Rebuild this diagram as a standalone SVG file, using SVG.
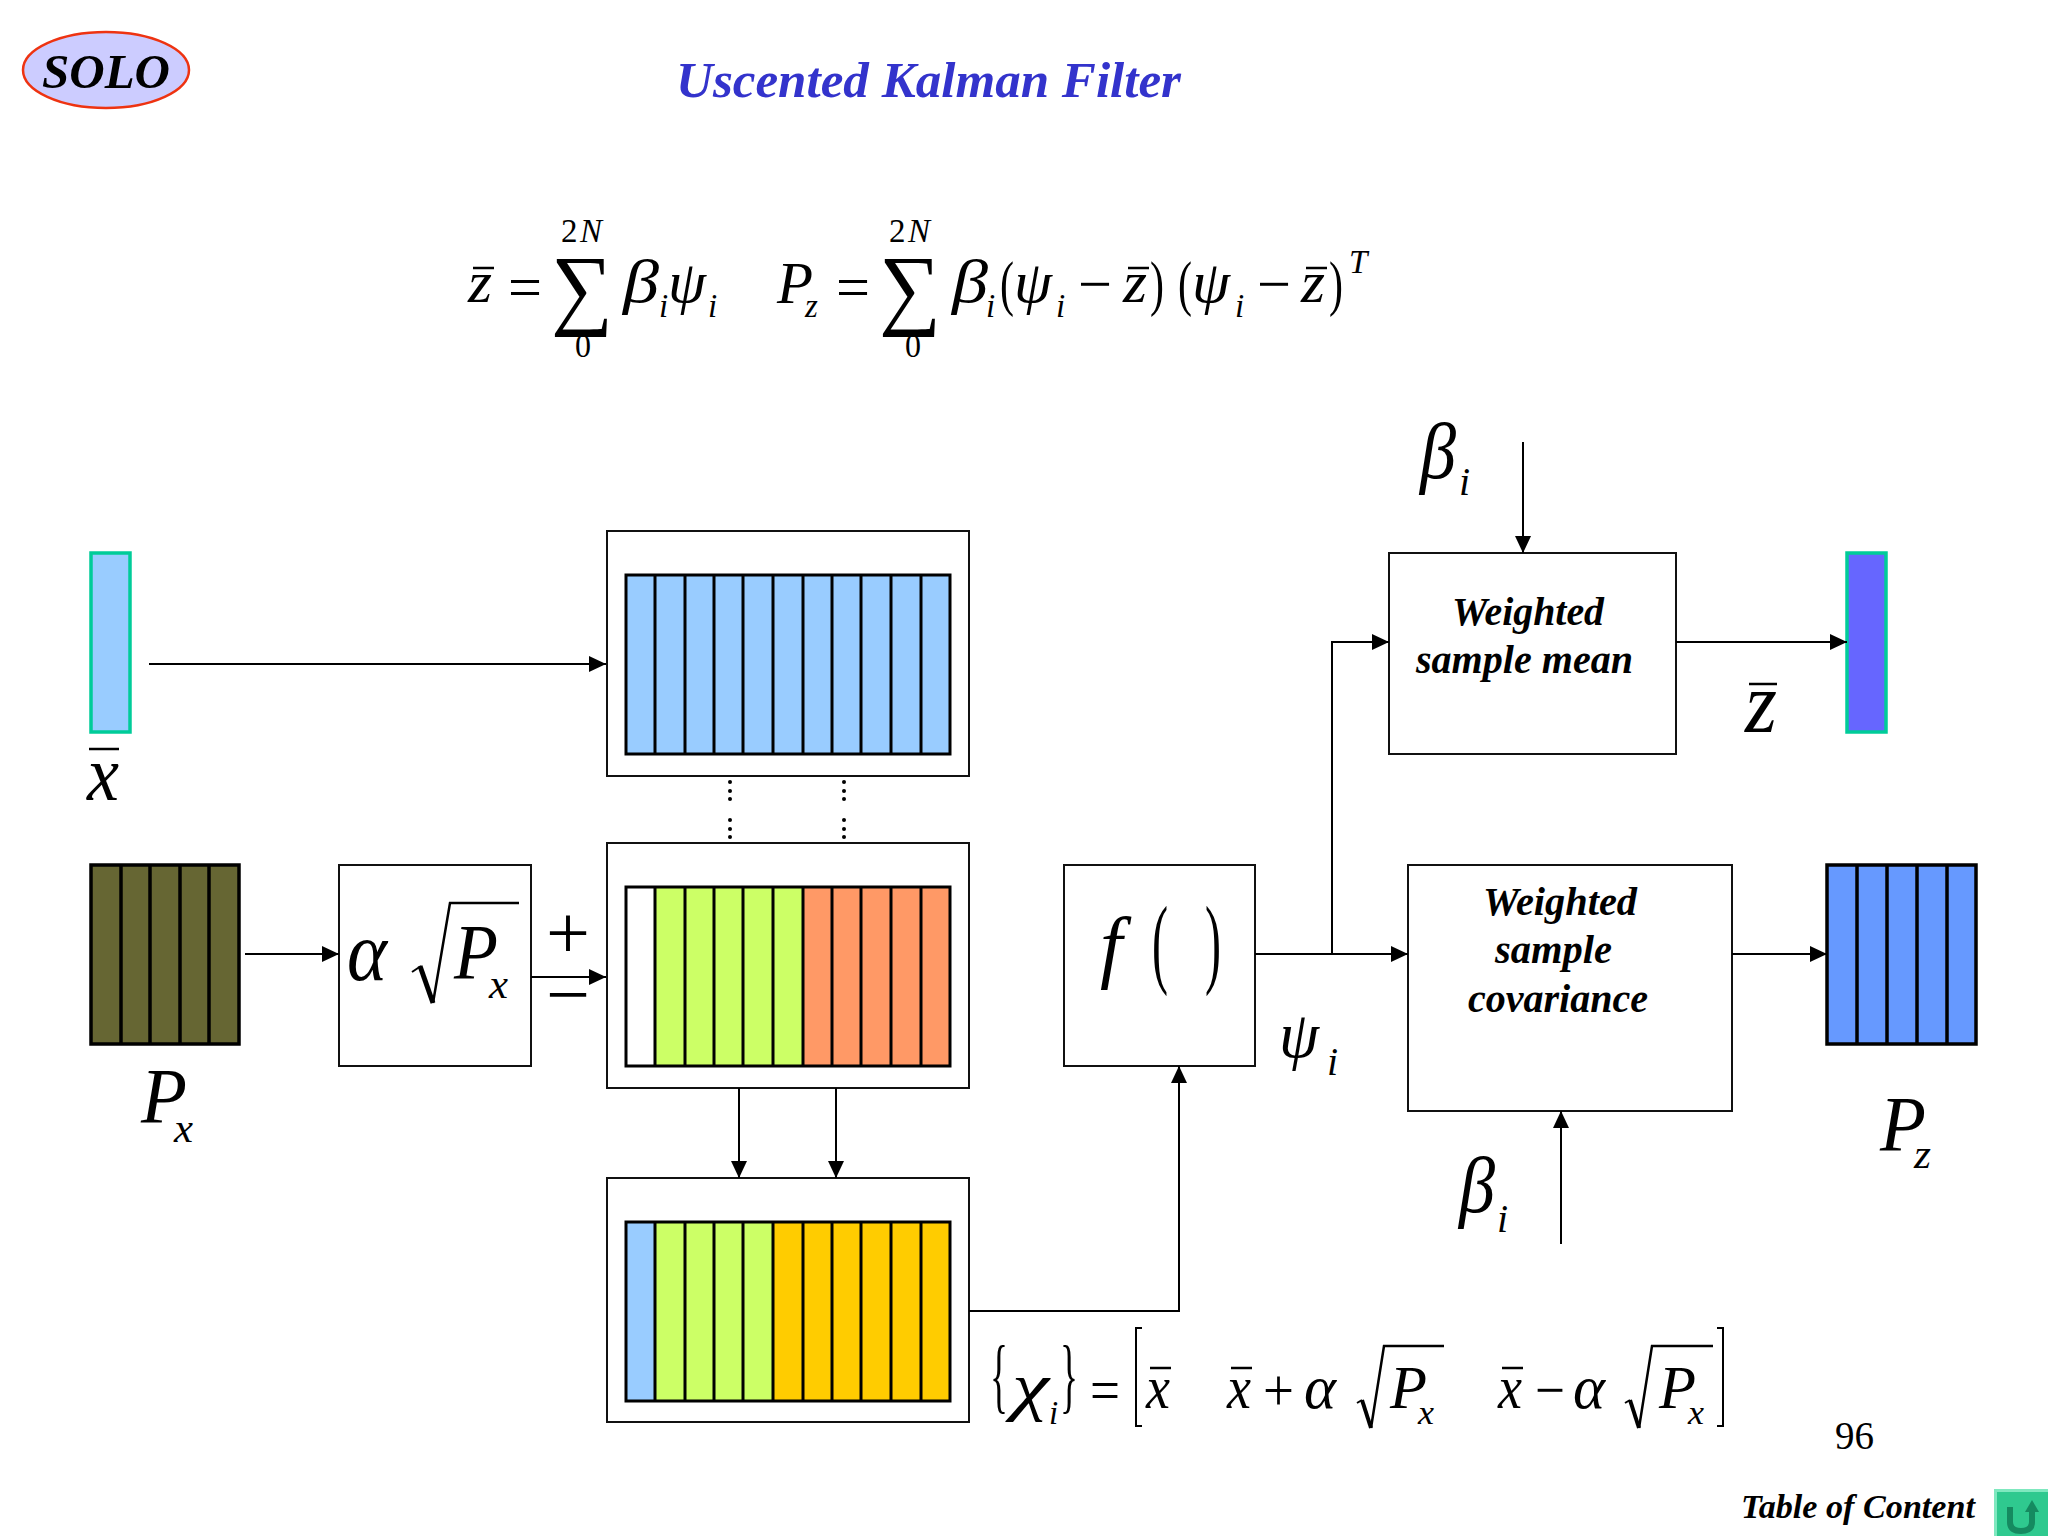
<svg xmlns="http://www.w3.org/2000/svg" width="2048" height="1536" viewBox="0 0 2048 1536">
<style>
text{font-family:"Liberation Serif","Times New Roman",serif;fill:#000}
.i{font-style:italic}
.b{font-style:italic;font-weight:bold}
.box{fill:#fff;stroke:#111;stroke-width:2}
.cell{stroke:#000;stroke-width:3;fill:none}
.cellb{stroke:#000;stroke-width:3.5;fill:none}
.ln{fill:none;stroke:#000;stroke-width:2}
.bar{stroke:#000;stroke-width:2.5;fill:none}
.vec{stroke:#00cc99;stroke-width:3.5}
</style>
<defs>
<marker id="ah" markerUnits="userSpaceOnUse" markerWidth="17" markerHeight="16" refX="17" refY="8" orient="auto"><path d="M0 0L17 8L0 16Z" fill="#000"/></marker>
</defs>
<rect width="2048" height="1536" fill="#fff"/>

<g id="logo">
<ellipse cx="106" cy="70" rx="83" ry="38" fill="#ccccff" stroke="#ee3311" stroke-width="2.5"/>
<text class="b" x="42" y="88" font-size="49" font-weight="normal" textLength="128" lengthAdjust="spacingAndGlyphs">SOLO</text>
</g>
<text id="title" class="b" x="676" y="97" font-size="50" style="fill:#3333cc" textLength="505" lengthAdjust="spacingAndGlyphs">Uscented Kalman Filter</text>

<g id="equation-top">
<text class="i" x="468" y="302" font-size="60" textLength="24" lengthAdjust="spacingAndGlyphs">z</text><path class="bar" d="M473 268H494"/>
<text x="508" y="307" font-size="60" textLength="34" lengthAdjust="spacingAndGlyphs">=</text>
<text x="551" y="318" font-size="90" textLength="62" lengthAdjust="spacingAndGlyphs">∑</text>
<text x="561" y="242" font-size="33">2</text><text class="i" x="580" y="242" font-size="33">N</text>
<text x="575" y="357" font-size="33" textLength="16" lengthAdjust="spacingAndGlyphs">0</text>
<text class="i" x="623" y="302" font-size="62" textLength="36" lengthAdjust="spacingAndGlyphs">β</text>
<text class="i" x="659" y="317" font-size="33">i</text>
<text class="i" x="668" y="302" font-size="60" textLength="38" lengthAdjust="spacingAndGlyphs">ψ</text>
<text class="i" x="708" y="317" font-size="33">i</text>
<text class="i" x="777" y="303" font-size="60" textLength="36" lengthAdjust="spacingAndGlyphs">P</text>
<text class="i" x="805" y="317" font-size="33">z</text>
<text x="836" y="307" font-size="60" textLength="34" lengthAdjust="spacingAndGlyphs">=</text>
<text x="879" y="318" font-size="90" textLength="62" lengthAdjust="spacingAndGlyphs">∑</text>
<text x="889" y="242" font-size="33">2</text><text class="i" x="908" y="242" font-size="33">N</text>
<text x="905" y="357" font-size="33" textLength="16" lengthAdjust="spacingAndGlyphs">0</text>
<text class="i" x="952" y="302" font-size="62" textLength="36" lengthAdjust="spacingAndGlyphs">β</text>
<text class="i" x="986" y="317" font-size="33">i</text>
<text x="1000" y="304" font-size="62" textLength="14" lengthAdjust="spacingAndGlyphs">(</text>
<text class="i" x="1014" y="302" font-size="60" textLength="38" lengthAdjust="spacingAndGlyphs">ψ</text>
<text class="i" x="1056" y="317" font-size="33">i</text>
<text x="1078" y="304" font-size="60" textLength="34" lengthAdjust="spacingAndGlyphs">−</text>
<text class="i" x="1123" y="302" font-size="60" textLength="24" lengthAdjust="spacingAndGlyphs">z</text><path class="bar" d="M1128 268H1149"/>
<text x="1150" y="304" font-size="62" textLength="14" lengthAdjust="spacingAndGlyphs">)</text>
<text x="1178" y="304" font-size="62" textLength="14" lengthAdjust="spacingAndGlyphs">(</text>
<text class="i" x="1192" y="302" font-size="60" textLength="38" lengthAdjust="spacingAndGlyphs">ψ</text>
<text class="i" x="1235" y="317" font-size="33">i</text>
<text x="1257" y="304" font-size="60" textLength="34" lengthAdjust="spacingAndGlyphs">−</text>
<text class="i" x="1301" y="302" font-size="60" textLength="24" lengthAdjust="spacingAndGlyphs">z</text><path class="bar" d="M1306 268H1327"/>
<text x="1329" y="304" font-size="62" textLength="14" lengthAdjust="spacingAndGlyphs">)</text>
<text class="i" x="1349" y="273" font-size="33">T</text>
</g>

<g id="vector-x">
<rect class="vec" x="91" y="553" width="39" height="179" fill="#99ccff"/>
<text class="i" x="87" y="800" font-size="78" textLength="32" lengthAdjust="spacingAndGlyphs">x</text><path class="bar" d="M89 749H119" stroke-width="3"/>
</g>

<g id="matrix-Px">
<rect x="91" y="865" width="148" height="179" fill="#666633"/>
<path class="cellb" d="M91 865H239V1044H91ZM121 865V1044M150 865V1044M180 865V1044M209 865V1044"/>
<text class="i" x="141" y="1122" font-size="78" textLength="46" lengthAdjust="spacingAndGlyphs">P</text>
<text class="i" x="174" y="1142" font-size="42" textLength="19" lengthAdjust="spacingAndGlyphs">x</text>
</g>

<g id="node-sqrt">
<rect class="box" x="339" y="865" width="192" height="201"/>
<text class="i" x="347" y="980" font-size="85" textLength="40" lengthAdjust="spacingAndGlyphs">α</text>
<path d="M412 972L421 966" fill="none" stroke="#000" stroke-width="2"/><path d="M420 966L433 1003" fill="none" stroke="#000" stroke-width="5"/><path d="M433 1003L450 903H519" fill="none" stroke="#000" stroke-width="2.5"/>
<text class="i" x="454" y="978" font-size="78" textLength="44" lengthAdjust="spacingAndGlyphs">P</text>
<text class="i" x="489" y="998" font-size="42" textLength="19" lengthAdjust="spacingAndGlyphs">x</text>
</g>
<g id="sign-plus-minus">
<text x="546" y="958" font-size="76" textLength="44" lengthAdjust="spacingAndGlyphs">+</text>
<text x="546" y="1020" font-size="76" textLength="44" lengthAdjust="spacingAndGlyphs">−</text>
</g>

<g id="sigma-top">
<rect class="box" x="607" y="531" width="362" height="245"/>
<rect x="626" y="575" width="324" height="179" fill="#99ccff"/>
<path class="cell" d="M626 575H950V754H626ZM655 575V754M685 575V754M714 575V754M743 575V754M773 575V754M803 575V754M832 575V754M861 575V754M891 575V754M921 575V754"/>
</g>
<g id="sigma-mid">
<rect class="box" x="607" y="843" width="362" height="245"/>
<rect x="626" y="887" width="29" height="179" fill="#fff"/>
<rect x="655" y="887" width="148" height="179" fill="#ccff66"/>
<rect x="803" y="887" width="147" height="179" fill="#ff9966"/>
<path class="cell" d="M626 887H950V1066H626ZM655 887V1066M685 887V1066M714 887V1066M743 887V1066M773 887V1066M803 887V1066M832 887V1066M861 887V1066M891 887V1066M921 887V1066"/>
</g>
<g id="sigma-bottom">
<rect class="box" x="607" y="1178" width="362" height="244"/>
<rect x="626" y="1222" width="29" height="179" fill="#99ccff"/>
<rect x="655" y="1222" width="118" height="179" fill="#ccff66"/>
<rect x="773" y="1222" width="177" height="179" fill="#ffcc00"/>
<path class="cell" d="M626 1222H950V1401H626ZM655 1222V1401M685 1222V1401M714 1222V1401M743 1222V1401M773 1222V1401M803 1222V1401M832 1222V1401M861 1222V1401M891 1222V1401M921 1222V1401"/>
</g>
<g id="dots" fill="#000">
<circle cx="730" cy="782" r="2"/><circle cx="730" cy="791" r="2"/><circle cx="730" cy="799" r="2"/><circle cx="730" cy="820" r="2"/><circle cx="730" cy="829" r="2"/><circle cx="730" cy="837" r="2"/>
<circle cx="844" cy="782" r="2"/><circle cx="844" cy="791" r="2"/><circle cx="844" cy="799" r="2"/><circle cx="844" cy="820" r="2"/><circle cx="844" cy="829" r="2"/><circle cx="844" cy="837" r="2"/>
</g>

<g id="node-f">
<rect class="box" x="1064" y="865" width="191" height="201"/>
<text class="i" x="1100" y="973" font-size="80">f</text>
<text x="1152" y="975" font-size="100" textLength="16" lengthAdjust="spacingAndGlyphs">(</text>
<text x="1205" y="975" font-size="100" textLength="16" lengthAdjust="spacingAndGlyphs">)</text>
<text class="i" x="1279" y="1057" font-size="66" textLength="40" lengthAdjust="spacingAndGlyphs">ψ</text>
<text class="i" x="1327" y="1075" font-size="40">i</text>
</g>

<g id="node-mean">
<rect class="box" x="1389" y="553" width="287" height="201"/>
<text class="b" x="1452" y="625" font-size="39" textLength="152" lengthAdjust="spacingAndGlyphs">Weighted</text>
<text class="b" x="1416" y="673" font-size="39" textLength="217" lengthAdjust="spacingAndGlyphs">sample mean</text>
<text class="i" x="1420" y="478" font-size="80" textLength="36" lengthAdjust="spacingAndGlyphs">β</text>
<text class="i" x="1459" y="495" font-size="40">i</text>
</g>
<g id="vector-z">
<rect class="vec" x="1847" y="553" width="39" height="179" fill="#6666ff"/>
</g>
<g id="label-z">
<text class="i" x="1745" y="732" font-size="86" textLength="32" lengthAdjust="spacingAndGlyphs">z</text><path class="bar" d="M1749 684H1777" stroke-width="3"/>
</g>

<g id="node-cov">
<rect class="box" x="1408" y="865" width="324" height="246"/>
<text class="b" x="1483" y="915" font-size="39" textLength="154" lengthAdjust="spacingAndGlyphs">Weighted</text>
<text class="b" x="1495" y="963" font-size="39" textLength="117" lengthAdjust="spacingAndGlyphs">sample</text>
<text class="b" x="1468" y="1012" font-size="39" textLength="180" lengthAdjust="spacingAndGlyphs">covariance</text>
<text class="i" x="1459" y="1212" font-size="80" textLength="36" lengthAdjust="spacingAndGlyphs">β</text>
<text class="i" x="1497" y="1232" font-size="40">i</text>
</g>
<g id="matrix-Pz">
<rect x="1827" y="865" width="149" height="179" fill="#6699ff"/>
<path class="cellb" d="M1827 865H1976V1044H1827ZM1857 865V1044M1887 865V1044M1917 865V1044M1947 865V1044"/>
<text class="i" x="1880" y="1150" font-size="78" textLength="46" lengthAdjust="spacingAndGlyphs">P</text>
<text class="i" x="1914" y="1168" font-size="42" textLength="17" lengthAdjust="spacingAndGlyphs">z</text>
</g>

<g id="connectors">
<path class="ln" marker-end="url(#ah)" d="M149 664H606"/>
<path class="ln" marker-end="url(#ah)" d="M245 954H339"/>
<path class="ln" marker-end="url(#ah)" d="M531 977H606"/>
<path class="ln" marker-end="url(#ah)" d="M739 1088V1178"/>
<path class="ln" marker-end="url(#ah)" d="M836 1088V1178"/>
<path class="ln" marker-end="url(#ah)" d="M969 1311H1179V1066"/>
<path class="ln" marker-end="url(#ah)" d="M1255 954H1408"/>
<path class="ln" marker-end="url(#ah)" d="M1332 954V642H1389"/>
<path class="ln" marker-end="url(#ah)" d="M1523 442V553"/>
<path class="ln" marker-end="url(#ah)" d="M1676 642H1847"/>
<path class="ln" marker-end="url(#ah)" d="M1732 954H1827"/>
<path class="ln" marker-end="url(#ah)" d="M1561 1244V1111"/>
</g>

<g id="equation-bottom">
<text x="990" y="1403" font-size="82" textLength="18" lengthAdjust="spacingAndGlyphs">{</text>
<text class="i" x="1012" y="1408" font-size="66" textLength="37" lengthAdjust="spacingAndGlyphs">χ</text>
<text class="i" x="1049" y="1424" font-size="33">i</text>
<text x="1060" y="1403" font-size="82" textLength="18" lengthAdjust="spacingAndGlyphs">}</text>
<text x="1090" y="1410" font-size="60" textLength="30" lengthAdjust="spacingAndGlyphs">=</text>
<path d="M1142 1328H1136V1426H1142" fill="none" stroke="#000" stroke-width="2"/>
<text class="i" x="1146" y="1408" font-size="62" textLength="24" lengthAdjust="spacingAndGlyphs">x</text><path class="bar" d="M1150 1368H1171"/>
<text class="i" x="1227" y="1408" font-size="62" textLength="24" lengthAdjust="spacingAndGlyphs">x</text><path class="bar" d="M1231 1368H1252"/>
<text x="1263" y="1410" font-size="60" textLength="31" lengthAdjust="spacingAndGlyphs">+</text>
<text class="i" x="1304" y="1408" font-size="62" textLength="32" lengthAdjust="spacingAndGlyphs">α</text>
<path d="M1357 1403L1362 1400" fill="none" stroke="#000" stroke-width="2"/><path d="M1362 1400L1371 1428" fill="none" stroke="#000" stroke-width="4"/><path d="M1371 1428L1384 1346H1444" fill="none" stroke="#000" stroke-width="2.5"/>
<text class="i" x="1390" y="1408" font-size="62" textLength="37" lengthAdjust="spacingAndGlyphs">P</text>
<text class="i" x="1418" y="1424" font-size="33" textLength="16" lengthAdjust="spacingAndGlyphs">x</text>
<text class="i" x="1498" y="1408" font-size="62" textLength="24" lengthAdjust="spacingAndGlyphs">x</text><path class="bar" d="M1502 1368H1523"/>
<text x="1535" y="1410" font-size="60" textLength="30" lengthAdjust="spacingAndGlyphs">−</text>
<text class="i" x="1573" y="1408" font-size="62" textLength="32" lengthAdjust="spacingAndGlyphs">α</text>
<path d="M1625 1403L1630 1400" fill="none" stroke="#000" stroke-width="2"/><path d="M1630 1400L1639 1428" fill="none" stroke="#000" stroke-width="4"/><path d="M1639 1428L1652 1346H1713" fill="none" stroke="#000" stroke-width="2.5"/>
<text class="i" x="1659" y="1408" font-size="62" textLength="37" lengthAdjust="spacingAndGlyphs">P</text>
<text class="i" x="1688" y="1424" font-size="33" textLength="16" lengthAdjust="spacingAndGlyphs">x</text>
<path d="M1717 1328H1723V1426H1717" fill="none" stroke="#000" stroke-width="2"/>
</g>

<text id="page-number" x="1835" y="1449" font-size="39">96</text>
<text id="toc" class="b" x="1741" y="1518" font-size="34" textLength="234" lengthAdjust="spacingAndGlyphs">Table of Content</text>
<g id="toc-button">
<rect x="1994" y="1489" width="54" height="47" fill="#2fc98f"/>
<path d="M1994 1489H2048V1492H1997V1536H1994Z" fill="#7fe8bf"/>
<path d="M2010 1507V1522Q2010 1531 2021 1531Q2032 1531 2032 1522V1511" fill="none" stroke="#158a60" stroke-width="6"/>
<path d="M2025 1512L2032 1500L2039 1512Z" fill="#158a60"/>
</g>
</svg>
